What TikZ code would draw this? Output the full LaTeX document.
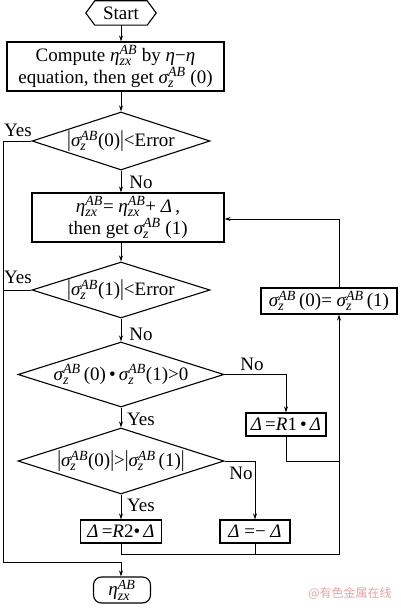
\documentclass[tikz,border=0pt]{standalone}
\usepackage{amsmath}
\usepackage{graphicx}
\usepackage{fontspec}
\setmainfont{Liberation Serif}
\newfontfamily\cjk{Noto Sans CJK SC}
\usetikzlibrary{arrows.meta,shapes.geometric}
\DeclareMathSizes{19}{19}{14}{10}
\newcommand\mi[1]{\textit{#1}}
\newcommand\sz{\mi{σ}^{\mi{AB}}_{\mi{z}}}
\newcommand\etz{\mi{η}^{\mi{AB}}_{\mi{zx}}}
\newcommand\dlt{\mi{Δ}}
\newcommand\vb{\scalebox{1}[1.2]{|}}
\definecolor{wmpink}{RGB}{235,160,165}
\tikzset{
  every node/.style={font=\fontsize{19}{22}\selectfont},
  boxline/.style={line width=1.1pt},
  box/.style={draw, line width=1.1pt, inner sep=0pt, align=center},
  dia/.style={draw, diamond, line width=1.1pt, inner sep=0pt},
  arr/.style={-{Stealth[length=6pt,width=4pt]}, line width=0.7pt},
  ln/.style={line width=0.7pt},
  lbl/.style={inner sep=0pt}
}
\begin{document}
\begin{tikzpicture}[x=1pt,y=-1pt]
\fill[white] (0,0) rectangle (400,610);
\useasboundingbox (0,0) rectangle (400,610);

% start hexagon
\node[inner sep=0pt, minimum width=52pt, minimum height=24pt] (start) at (121,13) {Start};
\draw[boxline] (start.north west) -- (start.north east) -- ([xshift=9pt]start.east) -- (start.south east) -- (start.south west) -- ([xshift=-9pt]start.west) -- cycle;

\node[box, minimum width=217pt, minimum height=49pt] (b1) at (115.5,66.5)
  {Compute $\etz$ by \mi{η}−\mi{η}\\equation, then get $\sz$ (0)};
\node[dia, minimum width=178pt, minimum height=58pt] (d1) at (121,141)
  {\makebox[0pt]{\vb$\sz$(0)\vb<Error}};
\node[box, minimum width=192pt, minimum height=49pt] (b2) at (128,217.5)
  {$\etz$= $\etz$+ \dlt\,,\\then get $\sz$ (1)};
\node[dia, minimum width=178pt, minimum height=56pt] (d2) at (121,290)
  {\makebox[0pt]{\vb$\sz$(1)\vb<Error}};
\node[dia, minimum width=206pt, minimum height=65pt] (d3) at (121,374.5)
  {\makebox[0pt]{$\sz$\,(0)\,\textbullet\,$\sz$(1)>0}};
\node[dia, minimum width=206pt, minimum height=66pt] (d4) at (121,461)
  {\makebox[0pt]{\vb$\sz$(0)\vb>\vb$\sz$\,(1)\vb}};
\node[box, minimum width=80pt, minimum height=23pt] (r1) at (286,424.5)
  {\dlt\,=\mi{R}1\,\textbullet\,\dlt};
\node[box, minimum width=81pt, minimum height=23pt] (r2) at (121,531.5)
  {\dlt\,=\mi{R}2\textbullet\,\dlt};
\node[box, minimum width=70pt, minimum height=23pt] (neg) at (255,531.5)
  {\dlt\ =−\ \dlt};
\node[box, minimum width=136pt, minimum height=26pt] (sb) at (329,301)
  {$\sz$\,(0)= $\sz$\,(1)};
\node[box, rounded corners=8pt, minimum width=57pt, minimum height=26pt] (end) at (122,590)
  {$\etz$};

% coordinates
\coordinate (lx1) at (3,141);
\coordinate (lx2) at (3,562);
\coordinate (rx) at (339,461);
\coordinate (bj) at (339,554);
\coordinate (tj) at (339,219);

% connectors
\draw[arr] (start.south -| d1.north) -- (b1.north -| d1.north);
\draw[arr] (b1.south -| d1.north) -- (d1.north);
\draw[arr] (d1.south) -- (b2.north -| d1.south);
\draw[arr] (b2.south -| d2.north) -- (d2.north);
\draw[arr] (d2.south) -- (d3.north);
\draw[arr] (d3.south) -- (d4.north);
\draw[arr] (d4.south) -- (r2.north);
\draw[arr] (d1.west) -- (lx1) -- (lx2) -- (lx2 -| d1.south) -- (end.north -| d1.south);
\draw[ln] (d2.west) -- (d2.west -| lx1);
\draw[arr] (d3.east) -| (r1.north);
\draw[ln] (r1.south) |- (rx);
\draw[arr] (d4.east) -| (neg.north);
\draw[arr] (r2.south) |- (bj) -- (bj |- sb.south);
\draw[ln] (neg.south) -- (neg.south |- bj);
\draw[arr] (bj |- sb.north) -- (tj) -- (tj -| b2.east);

% labels
\node[lbl] (y1) at (18,130) {Yes};
\node[lbl] (y2) at (18,277) {Yes};
\node[lbl] (n1) at (141,182) {No};
\node[lbl] (n2) at (141,334) {No};
\node[lbl] (n3) at (252,364) {No};
\node[lbl] (y3) at (141,419) {Yes};
\node[lbl] (n4) at (241,473) {No};
\node[lbl] (y4) at (141,505) {Yes};

\node[lbl, text=wmpink, font=\cjk\fontsize{12}{12}\selectfont] (wm) at (350,593) {@有色金属在线};
\end{tikzpicture}
\end{document}
